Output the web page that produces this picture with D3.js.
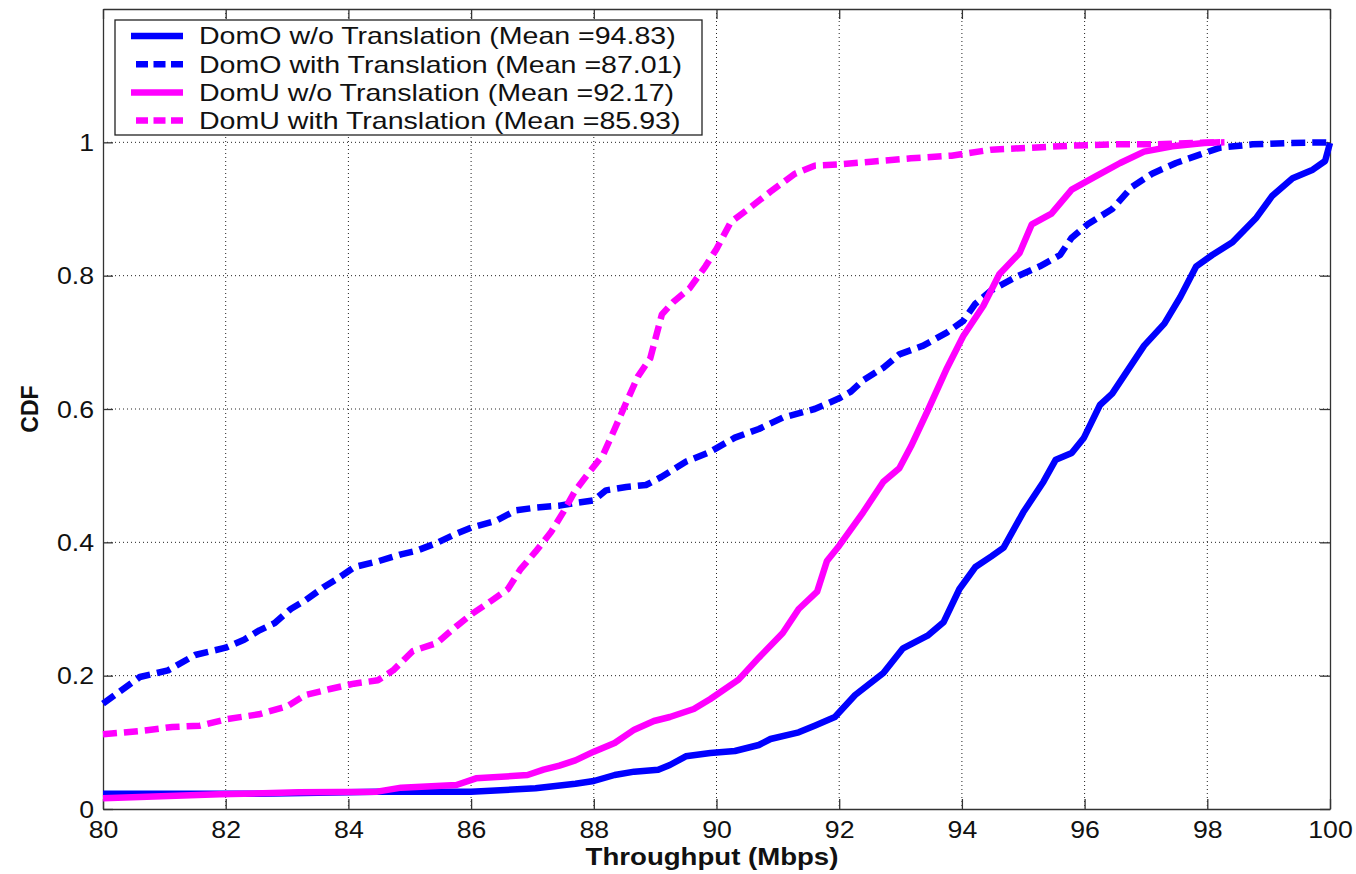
<!DOCTYPE html>
<html><head><meta charset="utf-8">
<script src="https://cdn.jsdelivr.net/npm/d3@7"></script>
<style>body{margin:0;background:#fff;} svg{display:block;}</style>
</head><body>
<svg id="chart" width="1356" height="874"></svg>
<script>
const xTicks = [80,82,84,86,88,90,92,94,96,98,100];
const yTicks = [0,0.2,0.4,0.6,0.8,1];
const yTickLabels = ["0","0.2","0.4","0.6","0.8","1"];
const seriesNames = [
  "DomO w/o Translation (Mean =94.83)",
  "DomO with Translation (Mean =87.01)",
  "DomU w/o Translation (Mean =92.17)",
  "DomU with Translation (Mean =85.93)"
];
const domOWithout = [[80,0.023],[82.54,0.023],[84.47,0.026],[86,0.026],[87.05,0.031],[87.7,0.038],[88,0.042],[88.34,0.051],[88.66,0.056],[89.05,0.059],[89.24,0.066],[89.5,0.079],[89.9,0.084],[90.3,0.087],[90.69,0.096],[90.88,0.105],[91.34,0.115],[91.6,0.125],[91.93,0.138],[92.26,0.171],[92.72,0.204],[93.04,0.241],[93.44,0.26],[93.7,0.28],[93.96,0.33],[94.22,0.363],[94.48,0.379],[94.68,0.392],[95,0.445],[95.33,0.491],[95.53,0.524],[95.79,0.534],[95.99,0.557],[96.25,0.606],[96.45,0.623],[96.71,0.659],[96.97,0.695],[97.3,0.728],[97.56,0.768],[97.82,0.814],[98.08,0.831],[98.41,0.85],[98.8,0.887],[99.06,0.92],[99.39,0.946],[99.72,0.959],[99.92,0.972],[100,0.999]];
const domOWith = [[80,0.158],[80.6,0.198],[81.06,0.208],[81.5,0.231],[82,0.242],[82.3,0.254],[82.55,0.268],[82.8,0.279],[83.06,0.3],[83.3,0.313],[83.6,0.333],[83.83,0.346],[84.1,0.363],[84.5,0.372],[84.86,0.382],[85.1,0.387],[85.44,0.399],[85.76,0.413],[86,0.422],[86.4,0.432],[86.73,0.448],[87.05,0.452],[87.44,0.455],[87.7,0.459],[88,0.463],[88.2,0.478],[88.53,0.483],[88.85,0.486],[89.1,0.498],[89.5,0.521],[89.88,0.535],[90.3,0.557],[90.69,0.57],[91.08,0.587],[91.6,0.6],[92,0.616],[92.19,0.626],[92.39,0.643],[92.72,0.662],[92.98,0.682],[93.37,0.695],[93.76,0.715],[94.02,0.732],[94.22,0.758],[94.48,0.778],[94.88,0.798],[95.27,0.814],[95.6,0.831],[95.79,0.857],[96.05,0.877],[96.45,0.9],[96.77,0.933],[97.1,0.953],[97.49,0.969],[97.89,0.982],[98.21,0.992],[98.74,0.997],[99.33,0.999],[100,1.0]];
const domUWithout = [[80,0.016],[80.6,0.018],[81.9,0.022],[83.19,0.025],[84.47,0.026],[84.86,0.032],[85.76,0.036],[86.08,0.046],[86.92,0.051],[87.18,0.059],[87.44,0.065],[87.7,0.073],[88,0.086],[88.34,0.099],[88.66,0.119],[88.98,0.132],[89.24,0.138],[89.63,0.15],[89.9,0.165],[90.36,0.194],[90.69,0.227],[91.08,0.264],[91.34,0.3],[91.64,0.326],[91.8,0.372],[92,0.395],[92.39,0.445],[92.72,0.491],[92.98,0.511],[93.17,0.544],[93.44,0.597],[93.76,0.662],[94.02,0.709],[94.35,0.755],[94.61,0.802],[94.94,0.834],[95.14,0.877],[95.46,0.893],[95.79,0.929],[96.18,0.949],[96.58,0.969],[96.97,0.986],[97.43,0.994],[97.95,0.999],[98.21,1.0]];
const domUWith = [[80,0.112],[80.61,0.117],[81.13,0.123],[81.58,0.125],[82.03,0.135],[82.54,0.142],[83,0.154],[83.3,0.171],[83.7,0.18],[84.09,0.188],[84.48,0.193],[84.73,0.208],[85.05,0.237],[85.44,0.249],[85.76,0.274],[86.02,0.293],[86.34,0.313],[86.6,0.33],[86.8,0.359],[87.05,0.386],[87.3,0.415],[87.5,0.445],[87.7,0.478],[87.95,0.508],[88.15,0.531],[88.34,0.57],[88.53,0.61],[88.72,0.649],[88.92,0.676],[89.11,0.742],[89.3,0.761],[89.56,0.781],[89.82,0.814],[90,0.84],[90.23,0.88],[90.56,0.903],[90.88,0.926],[91.28,0.953],[91.6,0.965],[92,0.967],[92.52,0.971],[93.17,0.976],[93.83,0.98],[94.48,0.989],[95.14,0.992],[95.79,0.995],[96.45,0.997],[97.1,0.997],[97.76,0.999],[98.28,1.0]];
const seriesData = [domOWithout, domOWith, domUWithout, domUWith];
const seriesColors = ["#0000ff","#0000ff","#ff00ff","#ff00ff"];
const seriesDashed = [false,true,false,true];

const svg = d3.select("#chart");
const L = 103, R = 1330, T = 9, B = 809;
const x = d3.scaleLinear().domain([80,100]).range([L,R]);
const y = d3.scaleLinear().domain([0,1.2]).range([B,T]);
const font = "Liberation Sans, Arial, Helvetica, sans-serif";
const SX = 1.16; // horizontal stretch of glyphs in the reference

// grid
const grid = svg.append("g");
xTicks.slice(1,-1).forEach(t => grid.append("line")
  .attr("x1",x(t)).attr("x2",x(t)).attr("y1",T).attr("y2",B)
  .attr("stroke","#222").attr("stroke-width",1).attr("stroke-dasharray","1,3"));
yTicks.slice(1).forEach(t => grid.append("line")
  .attr("x1",L).attr("x2",R).attr("y1",y(t)).attr("y2",y(t))
  .attr("stroke","#222").attr("stroke-width",1).attr("stroke-dasharray","1,3"));

// axes (ticks inside)
const tl = 10;
const xb = svg.append("g").attr("transform",`translate(0,${B})`)
  .call(d3.axisBottom(x).tickValues(xTicks).tickSizeInner(-tl).tickSizeOuter(0).tickPadding(13));
const xt = svg.append("g").attr("transform",`translate(0,${T})`)
  .call(d3.axisTop(x).tickValues(xTicks).tickSizeInner(-tl).tickSizeOuter(0).tickFormat(""));
const yl = svg.append("g").attr("transform",`translate(${L},0)`)
  .call(d3.axisLeft(y).tickValues(yTicks).tickFormat((d,i)=>yTickLabels[i]).tickSizeInner(-tl).tickSizeOuter(0).tickPadding(9));
const yr = svg.append("g").attr("transform",`translate(${R},0)`)
  .call(d3.axisRight(y).tickValues(yTicks).tickSizeInner(-tl).tickSizeOuter(0).tickFormat(""));
[xb,xt,yl,yr].forEach(g => {
  g.selectAll("path").attr("stroke","#333").attr("stroke-width",1.3);
  g.selectAll("line").attr("stroke","#333").attr("stroke-width",1.3);
  g.selectAll("text").attr("font-family",font).attr("font-size",23).attr("fill","#111");
});
xb.selectAll("text").attr("dy","0.71em").each(function(){
  const t = d3.select(this); const yy = +t.attr("y");
  t.attr("y",0).attr("transform",`translate(0,${yy}) scale(${SX},1)`);
});
yl.selectAll("text").attr("dy","0.35em").each(function(){
  const t = d3.select(this); const xx = +t.attr("x");
  t.attr("x",0).attr("transform",`translate(${xx},0) scale(${SX},1)`);
});

// lines
const line = d3.line().x(d=>x(d[0])).y(d=>y(d[1]));
seriesData.forEach((data,i) => {
  svg.append("path").datum(data).attr("d",line)
    .attr("fill","none").attr("stroke",seriesColors[i]).attr("stroke-width",6.5)
    .attr("stroke-linejoin","round")
    .attr("stroke-dasharray",seriesDashed[i] ? "14,7" : null);
});

// legend
const lg = svg.append("g");
lg.append("rect").attr("x",115).attr("y",20).attr("width",587).attr("height",115)
  .attr("fill","#fff").attr("stroke","#222").attr("stroke-width",1.3);
seriesNames.forEach((name,i) => {
  const cy = 36 + i*28.2;
  lg.append("line").attr("x1",seriesDashed[i]?136:131).attr("x2",183).attr("y1",cy).attr("y2",cy)
    .attr("stroke",seriesColors[i]).attr("stroke-width",6.5)
    .attr("stroke-dasharray",seriesDashed[i] ? "12,5.5" : null);
  lg.append("text").attr("transform",`translate(199,${cy}) scale(1.19,1)`).attr("dy","0.35em")
    .attr("font-family",font).attr("font-size",24).attr("fill","#111").text(name);
});

// labels
svg.append("text").attr("transform",`translate(712,865) scale(1.2,1)`).attr("text-anchor","middle")
  .attr("font-family",font).attr("font-size",23).attr("font-weight","bold").attr("fill","#111")
  .text("Throughput (Mbps)");
svg.append("text").attr("transform",`translate(38,${(T+B)/2}) rotate(-90)`).attr("text-anchor","middle")
  .attr("font-family",font).attr("font-size",23).attr("font-weight","bold").attr("fill","#111")
  .text("CDF");
</script>
</body></html>
